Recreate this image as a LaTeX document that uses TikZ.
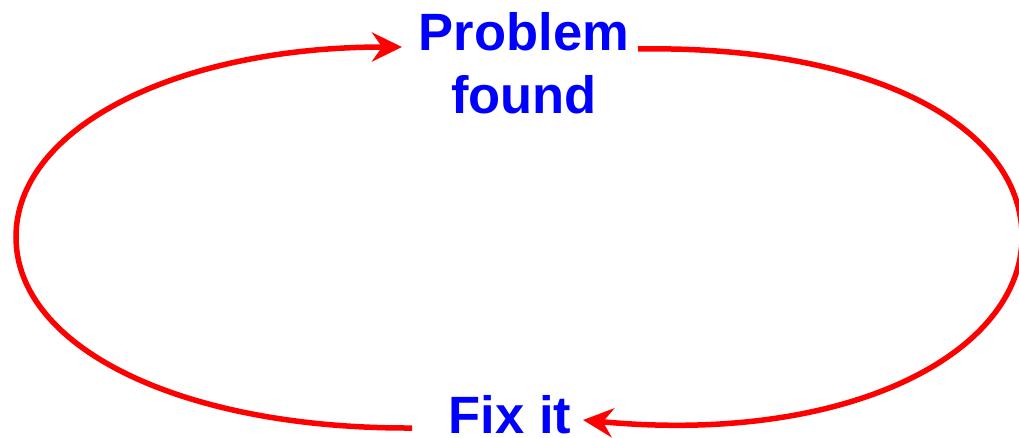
\documentclass[tikz,border=0pt]{standalone}
\usepackage{fontspec}
\setmainfont{Liberation Sans}
\usetikzlibrary{arrows.meta}
\begin{document}
\begin{tikzpicture}[x=1pt,y=-1pt,
  loopline/.style={draw=red, line width=5.5pt},
  tiparrow/.style={-{Stealth[length=30pt,width=29pt,inset=10pt]}},
  lbl/.style={text=blue, font=\bfseries\fontsize{52.5}{63}\selectfont, inner sep=0pt, align=center}]
\useasboundingbox (0,0) rectangle (1019,438);
\node[lbl] (prob) at (524,63) {Problem\\found};
\node[lbl, anchor=base] (fix) at (510,433) {Fix it};
\coordinate (probin) at (402,47);
\coordinate (probout) at (638,49);
\coordinate (fixin) at (583,420);
\coordinate (fixout) at (412,428);
\coordinate (L) at (16,237);
\coordinate (R) at (1022,237);
\draw[loopline, tiparrow] (fixout) .. controls (182,429) and (16,348) .. (L)
  .. controls (16,127) and (178,47) .. (probin);
\draw[loopline, tiparrow] (probout) .. controls (868,45) and (1022,124) .. (R)
  .. controls (1022,352) and (850,445) .. (fixin);
\end{tikzpicture}
\end{document}
